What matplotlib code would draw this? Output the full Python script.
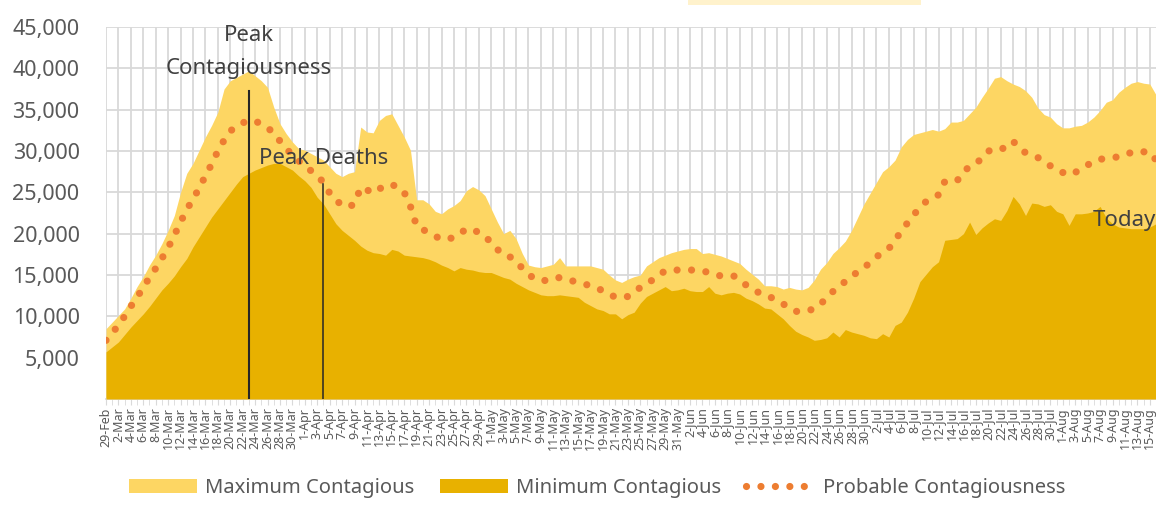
import numpy as np
import pandas as pd
import matplotlib
matplotlib.use("Agg")
import matplotlib.pyplot as plt
from matplotlib.patches import Rectangle

plt.rcParams['font.family'] = ['Noto Sans', 'DejaVu Sans']

# daily values (thousands), 29-Feb .. 16-Aug
max_contagious = [
    8.5, 9.3, 10.1, 10.9, 12.2, 13.6, 14.8, 16.2, 17.4, 18.8,
    20.4, 22.2, 25.0, 27.3, 28.5, 30.1, 31.7, 33.1, 34.7, 37.5,
    38.5, 38.9, 39.3, 39.7, 39.1, 38.5, 37.7, 35.3, 33.3, 32.1,
    31.1, 30.3, 30.1, 29.7, 29.3, 28.9, 28.1, 27.3, 26.9, 27.3,
    27.5, 32.9, 32.3, 32.2, 33.7, 34.3, 34.5, 33.1, 31.7, 30.1,
    24.1, 24.1, 23.6, 22.7, 22.4, 23.0, 23.4, 24.0, 25.2, 25.7,
    25.3, 24.6, 23.0, 21.4, 20.0, 20.4, 19.4, 17.6, 16.2, 16.0,
    15.9, 16.1, 16.3, 17.1, 16.1, 16.1, 16.1, 16.1, 16.1, 15.9,
    15.7, 15.0, 14.4, 14.1, 14.5, 14.8, 15.0, 16.1, 16.6, 17.1,
    17.4, 17.7, 17.9, 18.1, 18.2, 18.2, 17.6, 17.7, 17.5, 17.3,
    17.0, 16.7, 16.4, 15.7, 15.1, 14.5, 13.7, 13.7, 13.6, 13.3,
    13.5, 13.3, 13.2, 13.5, 14.4, 15.7, 16.5, 17.6, 18.3, 19.1,
    20.4, 22.0, 23.6, 24.9, 26.2, 27.5, 28.1, 28.9, 30.5, 31.4,
    32.0, 32.2, 32.4, 32.6, 32.4, 32.7, 33.5, 33.5, 33.7, 34.5,
    35.3, 36.5, 37.6, 38.8, 39.0, 38.5, 38.1, 37.8, 37.3, 36.5,
    35.2, 34.4, 34.1, 33.3, 32.8, 32.8, 33.0, 33.1, 33.5, 34.1,
    34.9, 35.9, 36.2, 37.1, 37.7, 38.2, 38.4, 38.2, 38.1, 36.8,
]
min_contagious = [
    5.7, 6.3, 6.9, 7.8, 8.7, 9.5, 10.3, 11.2, 12.2, 13.2,
    14.0, 14.9, 16.0, 17.0, 18.4, 19.6, 20.8, 22.0, 23.0, 24.0,
    25.0, 26.0, 26.9, 27.3, 27.7, 28.0, 28.3, 28.5, 28.5, 28.1,
    27.7, 27.0, 26.4, 25.6, 24.4, 23.6, 22.4, 21.2, 20.4, 19.8,
    19.2, 18.5, 18.0, 17.7, 17.6, 17.4, 18.1, 17.9, 17.4, 17.3,
    17.2, 17.1, 16.9, 16.6, 16.2, 15.9, 15.5, 15.9, 15.7, 15.6,
    15.4, 15.3, 15.3, 15.0, 14.7, 14.5, 14.0, 13.6, 13.2, 12.9,
    12.6, 12.5, 12.5, 12.6, 12.5, 12.4, 12.3, 11.7, 11.3, 10.9,
    10.7, 10.3, 10.3, 9.7, 10.2, 10.5, 11.6, 12.4, 12.8, 13.2,
    13.6, 13.1, 13.2, 13.4, 13.1, 13.0, 13.0, 13.6, 12.8, 12.6,
    12.8, 12.9, 12.7, 12.2, 11.9, 11.5, 11.0, 10.9, 10.3, 9.7,
    8.9, 8.2, 7.8, 7.5, 7.1, 7.2, 7.4, 8.1, 7.5, 8.4,
    8.1, 7.9, 7.7, 7.4, 7.3, 7.9, 7.5, 8.9, 9.3, 10.5,
    12.2, 14.2, 15.1, 16.0, 16.6, 19.2, 19.3, 19.4, 20.0, 21.4,
    19.9, 20.7, 21.3, 21.8, 21.6, 22.8, 24.5, 23.6, 22.2, 23.7,
    23.6, 23.3, 23.5, 22.7, 22.4, 21.0, 22.4, 22.4, 22.5, 22.7,
    23.3, 21.9, 21.2, 20.8, 20.7, 20.6, 20.6, 20.6, 20.8, 21.2,
]
probable = [
    7.1, 7.9, 9.0, 10.0, 11.2, 12.3, 13.5, 14.7, 15.8, 17.0,
    18.3, 19.8, 21.4, 22.9, 24.2, 25.5, 27.0, 28.4, 30.0, 31.3,
    32.4, 33.0, 33.4, 33.7, 33.6, 33.3, 32.8, 32.2, 31.2, 30.3,
    29.5, 28.8, 28.3, 27.6, 27.0, 26.2, 24.9, 24.0, 23.5, 23.2,
    23.6, 25.6, 25.3, 24.9, 25.4, 25.9, 25.9, 25.7, 25.0, 23.3,
    20.9, 20.5, 20.1, 19.7, 19.3, 19.4, 19.5, 20.0, 20.6, 20.4,
    20.2, 19.7, 18.9, 18.1, 17.4, 17.2, 16.7, 15.8, 15.1, 14.5,
    14.4, 14.3, 14.5, 14.7, 14.5, 14.3, 14.1, 13.9, 13.7, 13.4,
    13.1, 12.7, 12.3, 12.3, 12.4, 12.9, 13.5, 14.0, 14.4, 15.0,
    15.5, 15.6, 15.6, 15.6, 15.6, 15.6, 15.5, 15.3, 15.0, 14.9,
    14.9, 14.9, 14.4, 13.8, 13.3, 12.9, 12.6, 12.3, 11.9, 11.5,
    11.0, 10.6, 10.6, 10.7, 10.9, 11.5, 12.2, 13.0, 13.7, 14.2,
    14.8, 15.4, 15.9, 16.5, 17.2, 17.7, 18.2, 19.2, 20.3, 21.3,
    22.3, 23.1, 23.9, 24.3, 24.7, 26.3, 26.3, 26.4, 27.5, 28.1,
    28.4, 29.2, 30.0, 30.1, 30.1, 30.7, 31.2, 30.3, 29.8, 29.5,
    29.2, 28.7, 28.2, 27.7, 27.4, 27.1, 27.4, 27.9, 28.3, 28.8,
    29.0, 29.1, 29.2, 29.3, 29.6, 29.8, 30.0, 29.9, 29.9, 28.9,
]

dates = pd.date_range("2020-02-29", periods=len(probable), freq="D")
date_labels = [f"{d.day}-{d.strftime('%b')}" for d in dates]

x = np.arange(len(dates))
max_v = np.array(max_contagious) * 1000
min_v = np.array(min_contagious) * 1000
prob_v = np.array(probable) * 1000

light = '#FDD663'
dark = '#E8B100'
orange = '#ED7D31'
grey = '#595959'

fig = plt.figure(figsize=(11.56, 5.05), dpi=100)
ax = fig.add_axes([106 / 1156, 1 - 399 / 505, 1 - 106 / 1156, (399 - 27) / 505])

ax.fill_between(x, 0, max_v, color=light, lw=0, label='Maximum Contagious', zorder=2)
ax.fill_between(x, 0, min_v, color=dark, lw=0, label='Minimum Contagious', zorder=3)
ax.plot(x, prob_v, color=orange, lw=5.2, linestyle=(0, (0.001, 2.0)),
        dash_capstyle='round', label='Probable Contagiousness', zorder=4)

ax.set_xlim(0, len(x) - 1)
ax.set_ylim(0, 45000)
ax.set_yticks(np.arange(5000, 45001, 5000))
ax.set_yticklabels([f"{v:,}" for v in range(5000, 45001, 5000)])
ax.set_xticks(x[::2])
ax.set_xticklabels(date_labels[::2], rotation=90, fontsize=9, color=grey)
ax.set_xticks(x, minor=True)

ax.grid(True, color='#D9D9D9', lw=1.3, zorder=0)
ax.set_axisbelow(True)
ax.tick_params(axis='y', length=0, pad=19, labelsize=15.5, labelcolor=grey)
ax.tick_params(axis='x', which='major', length=4, color='#D9D9D9', pad=2)
ax.tick_params(axis='x', which='minor', length=4, color='#D9D9D9')
for s in ['top', 'right', 'left']:
    ax.spines[s].set_visible(False)
ax.spines['bottom'].set_color('#D9D9D9')
ax.spines['bottom'].set_linewidth(1.3)

# annotations
ax.plot([23, 23], [0, 37200], color='#262626', lw=1.5, zorder=5)
ax.plot([35, 35], [0, 26000], color='#262626', lw=1.1, zorder=5)
ax.text(23, 44000, 'Peak', ha='center', va='center', fontsize=16, color='#404040', zorder=6)
ax.text(23, 40000, 'Contagiousness', ha='center', va='center', fontsize=16, color='#404040', zorder=6)
ax.text(35, 29100, 'Peak Deaths', ha='center', va='center', fontsize=16, color='#404040', zorder=6)
ax.text(len(x) - 1, 21600, 'Today', ha='right', va='center', fontsize=16, color='#404040', zorder=6,
        clip_on=False)

fig.patches.append(Rectangle((688 / 1156, 1 - 5 / 505), (921 - 688) / 1156, 5 / 505,
                             transform=fig.transFigure, color='#FFF2CC', lw=0))

leg = fig.legend(loc='center', bbox_to_anchor=(597 / 1156, 1 - 488 / 505), ncol=3, frameon=False,
                 fontsize=14.5, handlelength=3.4, handleheight=0.65, handletextpad=0.4,
                 columnspacing=1.25)
for t in leg.get_texts():
    t.set_color(grey)

fig.savefig('out.png', dpi=100)
